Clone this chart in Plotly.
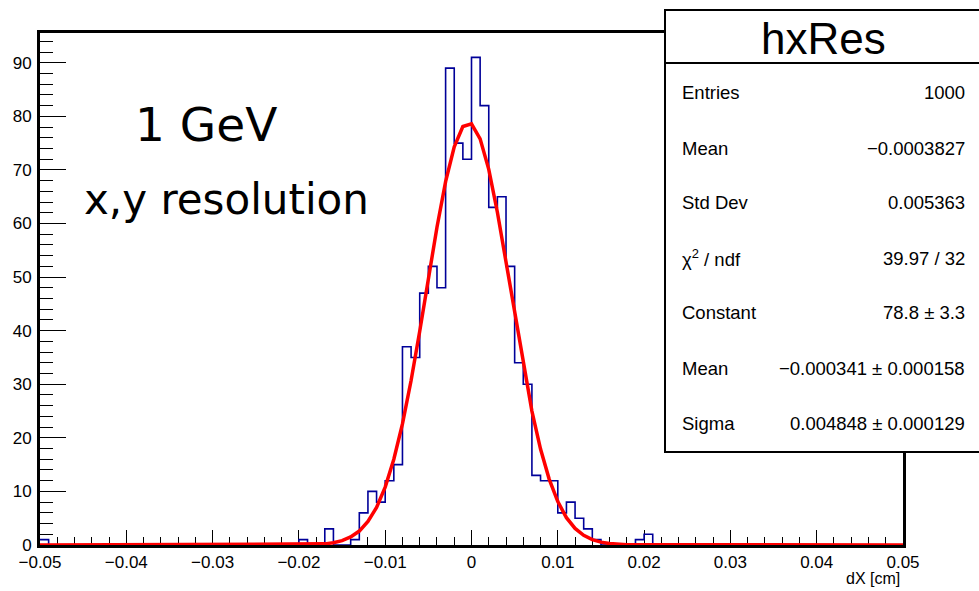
import numpy as np
import plotly.graph_objects as go

# ---------------- data ----------------
x_min, x_max, n_bins = -0.05, 0.05, 100
counts = [1] + [0]*29 + [1, 0, 0, 3, 0, 0,
          1, 6, 10, 8, 12, 15, 37, 35, 47, 52, 48, 89, 75, 72,
          91, 82, 63, 65, 52, 34, 30, 13, 12, 12, 6, 8, 5, 3, 1,
          0, 0, 0, 0, 1, 2] + [0]*29

fit_x = [-0.050, -0.018, -0.017, -0.016, -0.015, -0.014, -0.013, -0.012, -0.011, -0.010,
         -0.009, -0.008, -0.007, -0.006, -0.005, -0.004, -0.003, -0.002, -0.001, 0.000,
         0.001, 0.002, 0.003, 0.004, 0.005, 0.006, 0.007, 0.008, 0.009, 0.010,
         0.011, 0.012, 0.013, 0.014, 0.015, 0.016, 0.017, 0.018, 0.050]
fit_y = [0.0, 0.10, 0.21, 0.43, 0.82, 1.5, 2.6, 4.4, 7.0, 10.8,
         16.0, 22.6, 30.7, 39.9, 49.7, 59.3, 67.8, 74.3, 78.1, 78.6,
         75.8, 70.1, 62.1, 52.8, 42.9, 33.5, 25.0, 17.9, 12.3, 8.1,
         5.1, 3.1, 1.8, 1.0, 0.53, 0.27, 0.13, 0.06, 0.0]

x_tick_vals = [-0.05, -0.04, -0.03, -0.02, -0.01, 0, 0.01, 0.02, 0.03, 0.04, 0.05]
x_tick_text = ["\u22120.05", "\u22120.04", "\u22120.03", "\u22120.02", "\u22120.01", "0",
               "0.01", "0.02", "0.03", "0.04", "0.05"]
y_tick_vals = [0, 10, 20, 30, 40, 50, 60, 70, 80, 90]

stats_title = "hxRes"
stats_labels = ["Entries", "Mean", "Std Dev", "\u03c7<sup>2</sup> / ndf", "Constant", "Mean", "Sigma"]
stats_values = ["1000", "\u22120.0003827", "0.005363", "39.97 / 32", "78.8 \u00b1 3.3",
                "\u22120.000341 \u00b1 0.000158", "0.004848 \u00b1 0.000129"]
label_1 = "1 GeV"
label_2 = "x,y resolution"
x_title = "dX [cm]"

# ---------------- figure ----------------
W, H = 979, 591
L, R, T, B = 40, 903, 33, 545  # plot frame in pixels


def px(x):
    return (x - L) / (R - L)


def py(y):
    return (B - y) / (B - T)


edges = np.linspace(x_min, x_max, n_bins + 1)
step_y = list(counts) + [counts[-1]]

fig = go.Figure()
fig.add_trace(go.Scatter(x=edges, y=step_y, mode="lines", line_shape="hv",
                         line=dict(color="#000099", width=1.6), hoverinfo="skip"))
fig.add_trace(go.Scatter(x=fit_x, y=fit_y, mode="lines",
                         line=dict(color="#ff0000", width=3.5), hoverinfo="skip"))

tick_font = dict(family="Liberation Sans, Arial, sans-serif", size=17, color="black")

fig.update_layout(
    width=W, height=H,
    margin=dict(l=L, r=W - R, t=T, b=H - B, autoexpand=False),
    paper_bgcolor="white", plot_bgcolor="white",
    showlegend=False,
    xaxis=dict(range=[x_min, x_max], tickvals=x_tick_vals, ticktext=x_tick_text,
               ticks="inside", ticklen=15, tickwidth=1.2, tickcolor="black",
               minor=dict(dtick=0.002, tick0=-0.05, ticks="inside", ticklen=8,
                          tickwidth=1.2, tickcolor="black"),
               showline=True, linecolor="black", linewidth=3, mirror=True,
               showgrid=False, zeroline=False, tickfont=tick_font,
               layer="below traces", ticklabelstandoff=0),
    yaxis=dict(range=[0, 95.55], tickvals=y_tick_vals,
               ticks="inside", ticklen=26, tickwidth=1.2, tickcolor="black",
               minor=dict(dtick=2, tick0=0, ticks="inside", ticklen=13,
                          tickwidth=1.2, tickcolor="black"),
               showline=True, linecolor="black", linewidth=3, mirror=True,
               showgrid=False, zeroline=False, tickfont=tick_font,
               layer="below traces", ticklabelstandoff=2),
)

# stats box
fig.add_shape(type="rect", xref="paper", yref="paper",
              x0=px(665), x1=px(990), y0=py(452), y1=py(10),
              fillcolor="white", line=dict(color="black", width=2), layer="above")
fig.add_shape(type="line", xref="paper", yref="paper",
              x0=px(665), x1=px(990), y0=py(63), y1=py(63),
              line=dict(color="black", width=2), layer="above")

anns = []
anns.append(dict(text=stats_title, x=px(823), y=py(38), xref="paper", yref="paper",
                 xanchor="center", yanchor="middle", showarrow=False,
                 font=dict(family="Liberation Sans, Arial, sans-serif", size=44, color="black")))
row_y = [92, 148, 202, 258, 312, 368, 423]
stat_font = dict(family="Liberation Sans, Arial, sans-serif", size=18.5, color="black")
for lab, val, yy in zip(stats_labels, stats_values, row_y):
    anns.append(dict(text=lab, x=px(680), y=py(yy), xref="paper", yref="paper",
                     xanchor="left", yanchor="middle", showarrow=False, font=stat_font))
    anns.append(dict(text=val, x=px(967), y=py(yy), xref="paper", yref="paper",
                     xanchor="right", yanchor="middle", showarrow=False, font=stat_font))

anns.append(dict(text=label_1, x=px(133), y=py(124), xref="paper", yref="paper",
                 xanchor="left", yanchor="middle", showarrow=False,
                 font=dict(family="DejaVu Sans, sans-serif", size=47, color="black")))
anns.append(dict(text=label_2, x=px(82), y=py(199), xref="paper", yref="paper",
                 xanchor="left", yanchor="middle", showarrow=False,
                 font=dict(family="DejaVu Sans, sans-serif", size=42, color="black")))
anns.append(dict(text=x_title, x=px(902), y=py(578), xref="paper", yref="paper",
                 xanchor="right", yanchor="middle", showarrow=False,
                 font=dict(family="Liberation Sans, Arial, sans-serif", size=16, color="black")))
fig.update_layout(annotations=anns)

fig.write_html("out.html", config={"displayModeBar": False},
               post_script="document.body.style.margin='0';document.body.style.overflow='hidden';")
